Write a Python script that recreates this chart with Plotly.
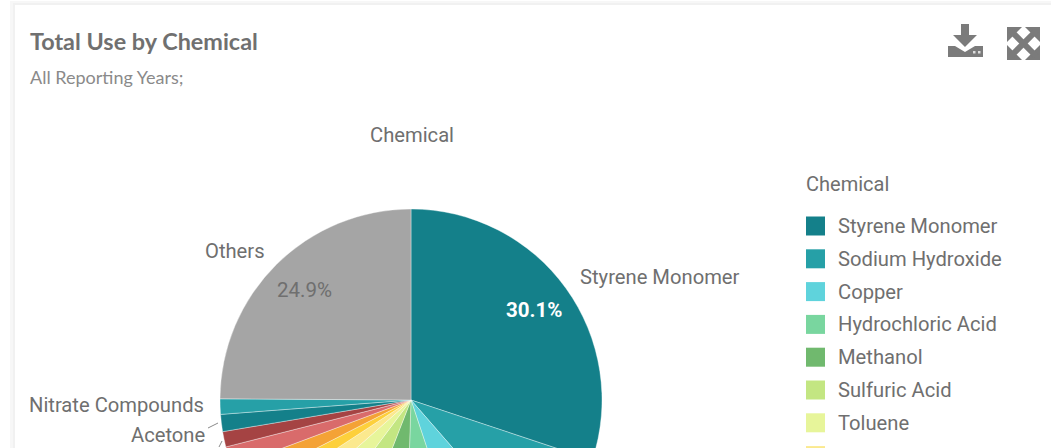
import plotly.graph_objects as go

W, H = 1051, 900

categories = ["Styrene Monomer", "Sodium Hydroxide", "Copper", "Hydrochloric Acid", "Methanol",
              "Sulfuric Acid", "Toluene", "(unread 8)", "(unread 9)", "(unread 10)", "(unread 11)",
              "(unread 12)", "Acetone", "Nitrate Compounds", "Others"]
values = [30.1, 8.5, 6.3, 5.6, 5.4, 4.3, 3.3, 2.3, 1.7, 1.8, 1.75, 1.3, 1.45, 1.3, 24.9]
colors = ["#14808a", "#26a0a7", "#5fd3dc", "#79d69f", "#70b96e", "#c3e682", "#e7f59a", "#fbe98e",
          "#fdd03b", "#f4a236", "#d96b6b", "#a54343", "#14808a", "#26a0a7", "#a5a5a5"]
legend_text_count = 7

TXT = "#6f6f6f"
ICON = "#7b7b7b"
FONT = "Roboto"


def fx(x):
    return x / W


def fy(y):
    return 1 - y / H


def note(x, y, text, size=20.2, color=TXT, anchor="left", family=FONT):
    return dict(x=fx(x), y=fy(y), xref="paper", yref="paper", text=text, showarrow=False,
                xanchor=anchor, yanchor="middle", font=dict(family=family, size=size, color=color))


def path(points, fill=ICON):
    d = "M" + " L".join(f"{fx(x):.5f} {fy(y):.5f}" for x, y in points) + " Z"
    return dict(type="path", xref="paper", yref="paper", path=d,
                fillcolor=fill, line=dict(width=0))


def rect(x0, y0, x1, y1, fill, layer="below"):
    return dict(type="rect", xref="paper", yref="paper", x0=fx(x0), x1=fx(x1), y0=fy(y0), y1=fy(y1),
                fillcolor=fill, line=dict(width=0), layer=layer)


def seg(x0, y0, x1, y1, color="#8a8a8a", width=1):
    return dict(type="line", xref="paper", yref="paper", x0=fx(x0), x1=fx(x1), y0=fy(y0), y1=fy(y1),
                line=dict(color=color, width=width))


fig = go.Figure(go.Pie(
    labels=categories, values=values, sort=False, direction="clockwise", rotation=0,
    marker=dict(colors=colors, line=dict(color="rgba(255,255,255,0.6)", width=0.6)),
    textinfo="none", showlegend=False, hoverinfo="label+percent",
    domain=dict(x=[fx(220), fx(602)], y=[fy(591), fy(209)]),
))

annotations = [
    note(28, 41, "<b>Total Use by Chemical</b>", 23.4, "#707070", family="Lato"),
    note(28, 77, "All Reporting Years;", 18, "#8a8a8a", family="Lato"),
    note(412, 135, "Chemical", anchor="center"),
    note(804, 184, "Chemical", 20),
    note(578, 277, "Styrene Monomer"),
    note(235, 251, "Others", anchor="center"),
    note(206, 405, "Nitrate Compounds", anchor="right"),
    note(207, 435, "Acetone", anchor="right"),
    note(533.5, 310, "<b>30.1%</b>", 20.5, "#ffffff", anchor="center"),
    note(304, 290, "24.9%", 20.5, anchor="center"),
]

shapes = [
    rect(10, 1, 1060, 900, "#f7f7f7"),
    rect(13, 3, 1060, 900, "#f1f1f1"),
    rect(15, 5, 1060, 900, "#ffffff"),
    seg(208, 428, 218, 423),
    seg(219, 447, 222, 441),
]

for i in range(8):
    y = 226 + i * 32.8
    shapes.append(rect(806, y - 9.5, 825, y + 9.5, colors[i]))
    if i < legend_text_count:
        annotations.append(note(836, y, categories[i]))

# download icon
shapes.append(path([(961, 24), (969, 24), (969, 35), (977, 35), (965, 47), (953, 35), (961, 35)]))
shapes.append(path([(948, 46), (955, 46), (965, 52), (975, 46), (983, 46), (983, 57), (948, 57)]))
shapes.append(rect(973, 51, 975.5, 53.5, "#dddddd", layer="above"))
shapes.append(rect(978, 51, 980.5, 53.5, "#dddddd", layer="above"))
# expand icon: four corner heads and a crossing pair of shafts
shapes.append(path([(1007, 27), (1022, 27), (1007, 42)]))
shapes.append(path([(1040, 27), (1025, 27), (1040, 42)]))
shapes.append(path([(1007, 60), (1022, 60), (1007, 45)]))
shapes.append(path([(1040, 60), (1025, 60), (1040, 45)]))
shapes.append(seg(1011, 31, 1036, 56, ICON, 6))
shapes.append(seg(1036, 31, 1011, 56, ICON, 6))

fig.update_layout(width=W, height=H, margin=dict(l=0, r=0, t=0, b=0), paper_bgcolor="#ffffff",
                  annotations=annotations, shapes=shapes, showlegend=False)

fig.write_html("out.html", config=dict(displayModeBar=False, responsive=False),
               post_script="document.body.style.margin='0';document.documentElement.style.overflow='hidden';document.body.style.overflow='hidden';")
